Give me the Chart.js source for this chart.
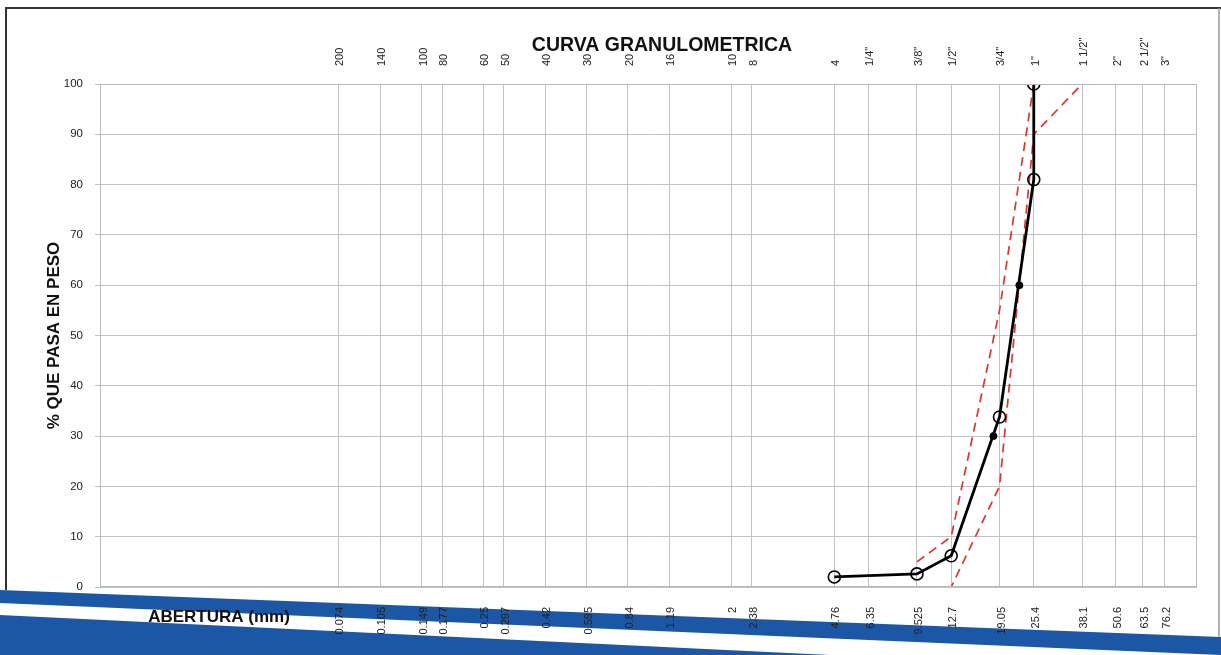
<!DOCTYPE html>
<html lang="es">
<head>
<meta charset="UTF-8">
<title>Curva Granulometrica</title>
<script src="https://cdn.jsdelivr.net/npm/chart.js"></script>
<style>
  html, body { margin: 0; padding: 0; background: #fff; }
</style>
</head>
<body>
<canvas id="curva" width="1221" height="655"></canvas>
<script>
// tamices: abertura (mm) y designacion
const aberturas = [0.074, 0.105, 0.149, 0.177, 0.25, 0.297, 0.42, 0.595, 0.84, 1.19, 2, 2.38,
                   4.76, 6.35, 9.525, 12.7, 19.05, 25.4, 38.1, 50.6, 63.5, 76.2];
const etiquetasAbertura = ['0.074', '0.105', '0.149', '0.177', '0.25', '0.297', '0.42', '0.595', '0.84', '1.19', '2', '2.38',
                           '4.76', '6.35', '9.525', '12.7', '19.05', '25.4', '38.1', '50.6', '63.5', '76.2'];
const tamices = ['200', '140', '100', '80', '60', '50', '40', '30', '20', '16', '10', '8',
                 '4', '1/4"', '3/8"', '1/2"', '3/4"', '1"', '1 1/2"', '2"', '2 1/2"', '3"'];

// muestra ensayada (% que pasa)
const muestraAbertura = [4.76, 9.525, 12.7, 19.05, 25.4, 25.4];
const muestraPasa = [2.0, 2.6, 6.2, 33.8, 81.0, 100];

// D30 y D60 sobre la curva
const dAbertura = [18.1, 22.5];
const dPasa = [30, 60];

// limites del huso
const husoMaxAbertura = [9.525, 12.7, 19.05, 25.4];
const husoMax = [5, 10, 55, 100];
const husoMinAbertura = [9.525, 12.7, 19.05, 25.4, 38.1];
const husoMin = [0, 0, 20, 90, 100];

const pares = (xs, ys) => xs.map((x, i) => ({ x: x, y: ys[i] }));
const FUENTE = '"Liberation Sans", Arial, sans-serif';

// fondo de la hoja escaneada, bordes y textos sueltos
const hoja = {
  id: 'hoja',
  beforeDraw(chart) {
    const ctx = chart.ctx;
    ctx.save();
    ctx.fillStyle = '#ffffff';
    ctx.fillRect(0, 0, chart.width, chart.height);

    // franjas azules al pie de la hoja
    ctx.fillStyle = '#1c57a5';
    ctx.beginPath();
    ctx.moveTo(0, 590);
    ctx.lineTo(1221, 637);
    ctx.lineTo(1221, 655);
    ctx.lineTo(0, 603);
    ctx.closePath();
    ctx.fill();
    ctx.beginPath();
    ctx.moveTo(0, 615);
    ctx.lineTo(830, 655);
    ctx.lineTo(0, 655);
    ctx.closePath();
    ctx.fill();

    ctx.strokeStyle = '#333';
    ctx.lineWidth = 2;
    ctx.beginPath();
    ctx.moveTo(6, 590);
    ctx.lineTo(6, 8);
    ctx.lineTo(1221, 8);
    ctx.stroke();
    ctx.strokeStyle = '#999';
    ctx.lineWidth = 1.5;
    ctx.beginPath();
    ctx.moveTo(1219, 8);
    ctx.lineTo(1219, 637);
    ctx.stroke();
    ctx.restore();
  },
  afterDraw(chart) {
    const ctx = chart.ctx;
    const a = chart.chartArea;
    ctx.save();
    ctx.strokeStyle = '#b9b9b9';
    ctx.lineWidth = 1;
    ctx.strokeRect(a.left + 0.5, a.top + 0.5, a.right - a.left - 1, a.bottom - a.top - 1);

    ctx.fillStyle = '#111';
    ctx.textAlign = 'center';
    ctx.textBaseline = 'middle';
    ctx.font = 'bold 19.5px ' + FUENTE;
    ctx.fillText('CURVA GRANULOMETRICA', 662, 46);
    ctx.font = 'bold 17px ' + FUENTE;
    ctx.fillText('ABERTURA (mm)', 219, 617);
    ctx.restore();
  }
};

const ctx = document.getElementById('curva').getContext('2d');
new Chart(ctx, {
  type: 'scatter',
  data: {
    datasets: [
      {
        label: 'Muestra',
        data: pares(muestraAbertura, muestraPasa),
        showLine: true,
        borderColor: '#000',
        borderWidth: 2.8,
        pointRadius: 6,
        pointBorderWidth: 1.6,
        pointBorderColor: '#000',
        pointBackgroundColor: 'rgba(0,0,0,0)'
      },
      {
        label: 'D30 / D60',
        data: pares(dAbertura, dPasa),
        pointRadius: 3.5,
        pointBackgroundColor: '#000',
        pointBorderColor: '#000'
      },
      {
        label: 'Huso max',
        data: pares(husoMaxAbertura, husoMax),
        showLine: true,
        borderColor: '#e0352b',
        borderWidth: 1.7,
        borderDash: [9, 6],
        pointRadius: 0
      },
      {
        label: 'Huso min',
        data: pares(husoMinAbertura, husoMin),
        showLine: true,
        borderColor: '#e0352b',
        borderWidth: 1.7,
        borderDash: [9, 6],
        pointRadius: 0
      }
    ]
  },
  options: {
    responsive: false,
    animation: false,
    layout: { padding: { left: 0, right: 24, top: 0, bottom: 0 } },
    plugins: {
      legend: { display: false },
      tooltip: { enabled: false }
    },
    scales: {
      x: {
        type: 'logarithmic',
        position: 'bottom',
        min: 0.01,
        max: 100,
        afterBuildTicks: s => { s.ticks = aberturas.map(v => ({ value: v })); },
        afterFit: s => { s.height = 68; },
        grid: { color: '#c2c2c2', drawTicks: false },
        border: { display: false },
        ticks: {
          autoSkip: false,
          minRotation: 90,
          maxRotation: 90,
          padding: 20,
          labelOffset: 2,
          color: '#222',
          font: { family: FUENTE, size: 11 },
          callback: (v, i) => etiquetasAbertura[i]
        }
      },
      x2: {
        type: 'logarithmic',
        position: 'top',
        min: 0.01,
        max: 100,
        afterBuildTicks: s => { s.ticks = aberturas.map(v => ({ value: v })); },
        afterFit: s => { s.height = 84; },
        grid: { display: false, drawTicks: false },
        border: { display: false },
        ticks: {
          autoSkip: false,
          minRotation: 90,
          maxRotation: 90,
          padding: 18,
          labelOffset: 15,
          color: '#222',
          font: { family: FUENTE, size: 11 },
          callback: (v, i) => tamices[i]
        }
      },
      y: {
        min: 0,
        max: 100,
        afterFit: s => { s.width = 100; },
        grid: { color: '#c2c2c2', tickLength: 5 },
        border: { display: false },
        ticks: {
          stepSize: 10,
          padding: 12,
          color: '#222',
          font: { family: FUENTE, size: 11.5 }
        },
        title: {
          display: true,
          text: '% QUE PASA EN PESO',
          color: '#111',
          font: { family: FUENTE, size: 17, weight: 'bold' },
          padding: { top: 44, bottom: 0 }
        }
      }
    }
  },
  plugins: [hoja]
});
</script>
</body>
</html>
